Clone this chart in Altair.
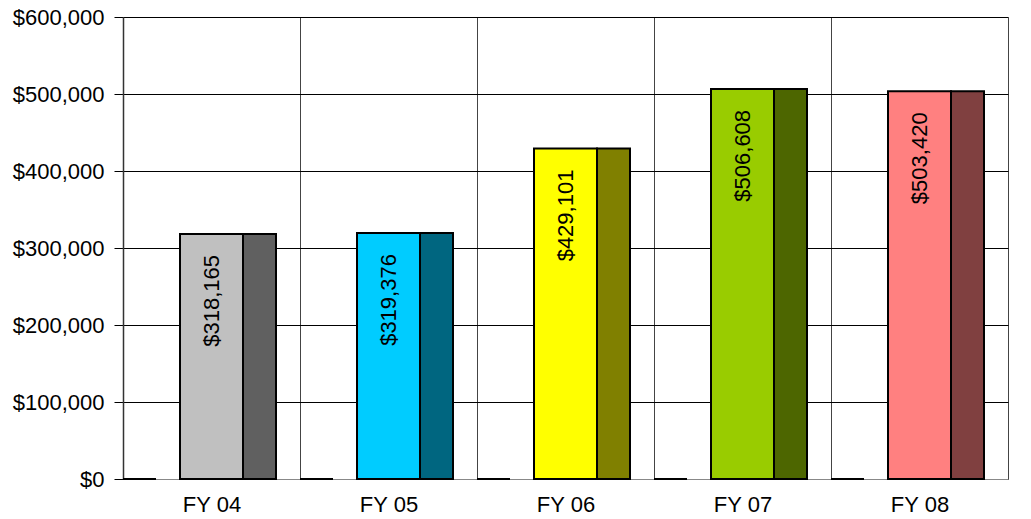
import altair as alt
import pandas as pd

categories = ["FY 04", "FY 05", "FY 06", "FY 07", "FY 08"]
values = [318165, 319376, 429101, 506608, 503420]
zero_values = [0, 0, 0, 0, 0]
labels = ["$318,165", "$319,376", "$429,101", "$506,608", "$503,420"]
front_colors = ["#C0C0C0", "#00CCFF", "#FFFF00", "#99CC00", "#FF8080"]
side_colors = ["#606060", "#006680", "#808000", "#4D6600", "#804040"]

df = pd.DataFrame({
    "cat": categories,
    "value": values,
    "zero": zero_values,
    "label": labels,
    "front": front_colors,
    "side": side_colors,
})

FONT = "Liberation Sans"

x = alt.X("cat:N", sort=categories, title=None,
          scale=alt.Scale(paddingInner=0, paddingOuter=0),
          axis=alt.Axis(labelAngle=0, labelFontSize=22, labelFont=FONT, labelColor="black",
                        ticks=False, labelPadding=15, grid=True, tickBand="extent",
                        gridColor="#444444", gridWidth=1, domainColor="#888888", domainWidth=1))
y = alt.Y("value:Q", title=None,
          scale=alt.Scale(domain=[0, 600000], nice=False),
          axis=alt.Axis(values=[0, 100000, 200000, 300000, 400000, 500000, 600000],
                        format="$,.0f", labelFontSize=22, labelFont=FONT, labelColor="black",
                        tickSize=9, tickColor="black", labelPadding=10,
                        gridColor="black", gridWidth=1, domainColor="#333333", domainWidth=1.5))

base = alt.Chart(df)

front = base.mark_bar(width=63, stroke="black", strokeWidth=2).encode(
    x=x, y=y, color=alt.Color("front:N", scale=None))
side = base.mark_bar(width=33, xOffset=48, stroke="black", strokeWidth=2).encode(
    x=x, y="value:Q", color=alt.Color("side:N", scale=None))
zero = base.mark_bar(width=33, xOffset=-72, stroke="black", strokeWidth=2, color="black").encode(
    x=x, y="zero:Q")
text = base.mark_text(angle=270, align="right", baseline="middle", fontSize=22, font=FONT,
                      color="black", yOffset=21).encode(
    x=x, y="value:Q", text="label:N")

chart = alt.layer(front, side, zero, text).properties(
    width=885, height=462,
    autosize=alt.AutoSizeParams(type="none"),
    padding={"left": 123, "top": 17, "right": 23, "bottom": 40},
).configure_view(stroke=None).configure(background="white")

chart.save("out.html", embed_options={"renderer": "svg", "actions": False})
